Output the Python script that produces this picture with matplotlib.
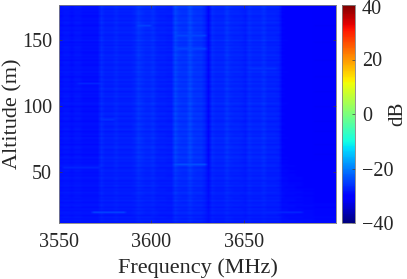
import numpy as np
import matplotlib
matplotlib.use('Agg')
import matplotlib.pyplot as plt
from matplotlib.transforms import ScaledTranslation

plt.rcParams['font.family'] = ['Liberation Serif', 'DejaVu Serif']

col_db = [-28.9, -28.5, -28.5, -28.9, -28.5, -28.5, -28.9, -28.9, -28.9, -28.9, -28.9,
          -26.9, -27.7, -27.7, -27.7,
          -27.1, -27.7, -27.7, -27.7, -27.7, -27.3,
          -26.1, -26.7, -27.1, -27.1,
          -26.5, -27.5, -27.7, -27.7, -27.9, -27.9,
          -24.9, -26.1, -26.3, -26.3,
          -24.7, -26.1, -26.3, -26.3, -27.3,
          -29.6,
          -26.7, -27.3, -27.3, -27.3,
          -26.1, -27.1, -27.3, -27.3, -27.5, -27.9,
          -26.7, -27.3, -27.3, -27.3,
          -26.5, -27.5, -27.5, -27.5, -27.7,
          -29.8, -30, -30.2, -30.2, -30.4, -30.4, -30.8, -30.8, -30.8, -31.2, -31.2, -31.2, -31.2, -31.2, -31.2]

# per altitude bin (1.25 m, bottom to top): row offset and how strong the stripes are
row_db = [-.5, .3, -.4, .2, -.6, .1, .4, -.3, .2, -.5, .3, .1, -.4, .5, -.2, .1,
          -.5, .2, .4, -.3, .1, -.4, .6, -.1, .2, -.5, .3, .5, -.3, .1, -.2, .4,
          .1, -.5, .6, .2, -.3, .4, -.1, .7, .2, -.4, .5, .1, -.2, .6, .3, -.4,
          .5, -.1, .2, .8, -.3, .4, .1, -.5, .6, .2, -.2, .5, .3, -.4, .1, .7,
          -.2, .4, .6, -.3, .2, .5, -.4, .3, .8, -.1, .2, -.3, .6, .1, .4, -.5,
          .3, .7, -.2, .1, .5, -.3, .6, .2, -.4, .4, .1, .8, -.2, .3, .5, -.3,
          .2, .6, -.4, .4, -.1, .7, .2, -.3, .5, .1, .6, -.2, .3, -.4, .8, .1,
          .4, -.3, .2, .6, -.1, .3, .5, -.4, .2, .7, -.2, .4, .1, -.3, .5, .2,
          .3, -.2, .6, .1]
row_contrast = [.35, .35, .4, .4, .4, .45, .45, .45, .5, .5, .5, .5, .55, .55, .55, .55,
                .6, .6, .6, .6, .6, .65, .65, .65, .65, .7, .7, .7, .7, .75, .75, .75,
                .8, .8, .85, .85, .9, .9, .95, .95] + [1] * 92

# short brighter streaks: altitude, first and last frequency, level
streak_alt = [19.7, 19.7, 56, 53, 161, 153, 117, 143, 128, 90]
streak_f0 = [3567, 3662, 3612, 3552, 3592, 3612, 3560, 3612, 3652, 3572]
streak_f1 = [3586, 3682, 3630, 3572, 3600, 3630, 3572, 3630, 3668, 3580]
streak_db = [-24.5, -27, -23.5, -27, -25, -24.5, -27, -24.5, -26, -26]

freq_edges = np.arange(3550, 3701, 2)
alt_edges = 11.4 + 1.25 * np.arange(len(row_db) + 1)

cols = np.array(col_db)
level = cols.mean()
row_weight = (cols + 32) / 5
z = np.array([level + c * (cols - level) + r * row_weight for c, r in zip(row_contrast, row_db)])
for a, f0, f1, v in zip(streak_alt, streak_f0, streak_f1, streak_db):
    i = np.searchsorted(alt_edges, a) - 1
    j0 = np.searchsorted(freq_edges, f0)
    j1 = np.searchsorted(freq_edges, f1)
    z[i, j0:j1] = v

fig = plt.figure(figsize=(4.07, 2.79), dpi=100)
ax = fig.add_axes([59 / 407, 1 - 223 / 279, 277 / 407, 218 / 279])
im = ax.imshow(z, origin='lower', aspect='auto', cmap='jet', vmin=-40, vmax=40,
               extent=[3550, 3700, alt_edges[0], alt_edges[-1]], interpolation='bilinear')
ax.set_xticks([3550, 3600, 3650])
ax.set_yticks([50, 100, 150])
ax.tick_params(direction='in', length=2.5, width=0.5, color='#404040', labelsize=14.5,
               labelcolor='#262626', top=True, right=True)
ax.tick_params(axis='x', pad=7.5)
ax.tick_params(axis='y', pad=5)
ax.set_xlabel('Frequency (MHz)', fontsize=16, color='#262626', labelpad=4)
ax.set_ylabel('Altitude (m)', fontsize=16, color='#262626', labelpad=-0.5)
for s in ax.spines.values():
    s.set_linewidth(0.6)
    s.set_color('#808080')

cax = fig.add_axes([342 / 407, 1 - 223 / 279, 13 / 407, 218 / 279])
cb = fig.colorbar(im, cax=cax)
cb.set_ticks([-40, -20, 0, 20, 40])
cb.ax.tick_params(direction='in', length=2, width=0.5, color='#404040', labelsize=14.5,
                  labelcolor='#262626', pad=5)
cb.outline.set_linewidth(0.6)
cb.outline.set_edgecolor('#808080')
cb.set_label('dB', fontsize=15, color='#262626', labelpad=-4)

# keep the top colorbar label inside the figure
top_label = cb.ax.get_yticklabels()[-1]
top_label.set_transform(top_label.get_transform() + ScaledTranslation(0, -1.5 / 100, fig.dpi_scale_trans))

fig.savefig('out.png', dpi=100)
